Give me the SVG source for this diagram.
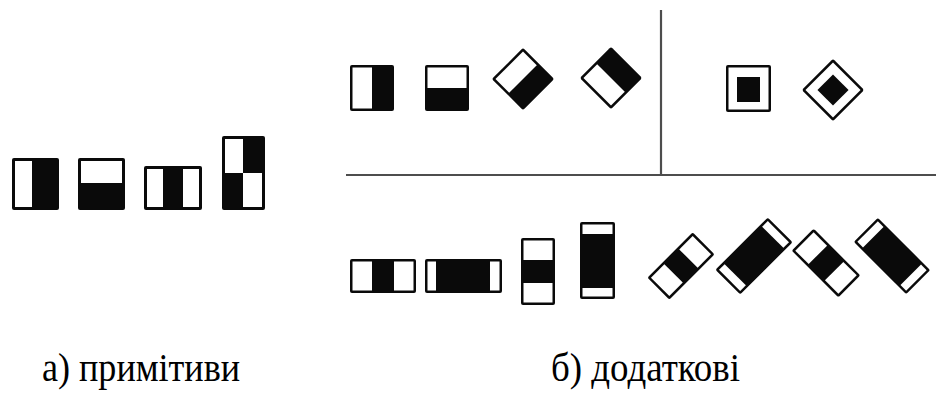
<svg xmlns="http://www.w3.org/2000/svg" width="936" height="405" viewBox="0 0 936 405">
  <style>
    .blk { fill: #0a0a0a; }
    .wht { fill: #ffffff; }
    .rule { stroke: #4d4d4d; stroke-width: 2.2; fill: none; }
    text.cap { font-family: "Liberation Serif", "Times New Roman", "DejaVu Serif", serif; font-size: 40px; fill: #000000; }
  </style>
  <rect x="0" y="0" width="936" height="405" fill="#ffffff"/>

  <!-- dividing rules -->
  <g id="connectors">
    <line class="rule" x1="661" y1="10" x2="661" y2="176"/>
    <line class="rule" x1="346" y1="175" x2="936" y2="175"/>
  </g>

  <!-- a) primitive features -->
  <g id="prim-edge-v">
    <rect class="blk" x="12" y="158" width="47" height="52" rx="2"/>
    <rect class="wht" x="15" y="161" width="17" height="46"/>
  </g>
  <g id="prim-edge-h">
    <rect class="blk" x="78" y="158" width="47" height="52" rx="2"/>
    <rect class="wht" x="81" y="161" width="41" height="22"/>
  </g>
  <g id="prim-line">
    <rect class="blk" x="144" y="166" width="58" height="44" rx="2"/>
    <rect class="wht" x="147" y="169" width="16" height="38"/>
    <rect class="wht" x="183" y="169" width="16" height="38"/>
  </g>
  <g id="prim-diag">
    <rect class="blk" x="222" y="136" width="43" height="74" rx="2"/>
    <rect class="wht" x="225" y="139" width="18" height="34"/>
    <rect class="wht" x="243" y="173" width="19" height="34"/>
  </g>

  <!-- b) extra features: edge set -->
  <g id="edge-v">
    <rect class="blk" x="350" y="65" width="44" height="46" rx="2"/>
    <rect class="wht" x="352.5" y="67.5" width="19.5" height="41"/>
  </g>
  <g id="edge-h">
    <rect class="blk" x="425" y="65" width="44" height="46" rx="2"/>
    <rect class="wht" x="427.5" y="67.5" width="39" height="20.5"/>
  </g>
  <g id="edge-rot-a" transform="translate(523 79) rotate(45)">
    <rect class="blk" x="-22" y="-22" width="44" height="44" rx="2"/>
    <rect class="wht" x="-19.5" y="-19.5" width="19.5" height="39"/>
  </g>
  <g id="edge-rot-b" transform="translate(611 78) rotate(45)">
    <rect class="blk" x="-22" y="-22" width="44" height="44" rx="2"/>
    <rect class="wht" x="-19.5" y="0" width="39" height="19.5"/>
  </g>

  <!-- b) extra features: centre-surround set -->
  <g id="center-sq">
    <rect class="blk" x="726" y="65" width="45" height="47" rx="2"/>
    <rect class="wht" x="728.5" y="67.5" width="40" height="42"/>
    <rect class="blk" x="737" y="77" width="23" height="25"/>
  </g>
  <g id="center-rot" transform="translate(833 90) rotate(45)">
    <rect class="blk" x="-22" y="-22" width="44" height="44" rx="2"/>
    <rect class="wht" x="-19.5" y="-19.5" width="39" height="39"/>
    <rect class="blk" x="-11" y="-11" width="22" height="22"/>
  </g>

  <!-- b) extra features: line set -->
  <g id="line-h1">
    <rect class="blk" x="350" y="259" width="66" height="34" rx="2"/>
    <rect class="wht" x="352.5" y="261.5" width="19.5" height="29"/>
    <rect class="wht" x="394" y="261.5" width="19.5" height="29"/>
  </g>
  <g id="line-h2">
    <rect class="blk" x="425" y="259" width="77" height="34" rx="2"/>
    <rect class="wht" x="427.5" y="261.5" width="8.5" height="29"/>
    <rect class="wht" x="490" y="261.5" width="9.5" height="29"/>
  </g>
  <g id="line-v1">
    <rect class="blk" x="521" y="238" width="34" height="67" rx="2"/>
    <rect class="wht" x="523.5" y="240.5" width="29" height="19.5"/>
    <rect class="wht" x="523.5" y="283" width="29" height="19.5"/>
  </g>
  <g id="line-v2">
    <rect class="blk" x="580" y="222" width="35" height="77" rx="2"/>
    <rect class="wht" x="582.5" y="224.5" width="30" height="9.5"/>
    <rect class="wht" x="582.5" y="288" width="30" height="8.5"/>
  </g>
  <g id="line-rot1" transform="translate(681 266) rotate(-45)">
    <rect class="blk" x="-32" y="-15.5" width="64" height="31" rx="2"/>
    <rect class="wht" x="-29.5" y="-13" width="19" height="26"/>
    <rect class="wht" x="10.5" y="-13" width="19" height="26"/>
  </g>
  <g id="line-rot2" transform="translate(754 256) rotate(-45)">
    <rect class="blk" x="-37" y="-17.5" width="74" height="35" rx="2"/>
    <rect class="wht" x="-34.5" y="-15" width="8" height="30"/>
    <rect class="wht" x="26.5" y="-15" width="8" height="30"/>
  </g>
  <g id="line-rot3" transform="translate(826 263) rotate(45)">
    <rect class="blk" x="-33" y="-15.5" width="66" height="31" rx="2"/>
    <rect class="wht" x="-30.5" y="-13" width="19" height="26"/>
    <rect class="wht" x="11.5" y="-13" width="19" height="26"/>
  </g>
  <g id="line-rot4" transform="translate(892 256) rotate(45)">
    <rect class="blk" x="-37" y="-17" width="74" height="34" rx="2"/>
    <rect class="wht" x="-34.5" y="-14.5" width="8" height="29"/>
    <rect class="wht" x="26.5" y="-14.5" width="8" height="29"/>
  </g>

  <!-- captions, centred under each feature group -->
  <g id="captions">
    <text class="cap" x="42" y="381" textLength="198" lengthAdjust="spacingAndGlyphs">а) примітиви</text>
    <text class="cap" x="551" y="381" textLength="189" lengthAdjust="spacingAndGlyphs">б) додаткові</text>
  </g>
</svg>
